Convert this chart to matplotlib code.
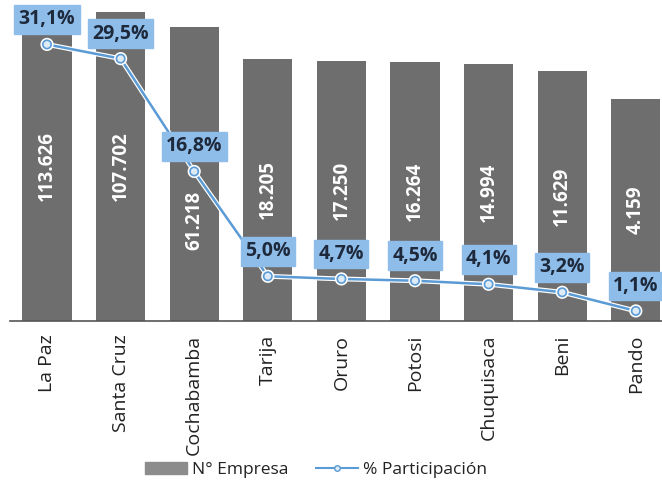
import numpy as np
import matplotlib
matplotlib.use("Agg")
import matplotlib.pyplot as plt
import matplotlib.patheffects as pe
from matplotlib.patches import Patch
from matplotlib.lines import Line2D

plt.rcParams['font.family'] = ['Open Sans', 'DejaVu Sans']

# data
deptos = ["La Paz", "Santa Cruz", "Cochabamba", "Tarija", "Oruro",
          "Potosi", "Chuquisaca", "Beni", "Pando"]
empresas = [113626, 107702, 61218, 18205, 17250, 16264, 14994, 11629, 4159]
empresas_txt = ["113.626", "107.702", "61.218", "18.205", "17.250",
                "16.264", "14.994", "11.629", "4.159"]
particip = [31.1, 29.5, 16.8, 5.0, 4.7, 4.5, 4.1, 3.2, 1.1]
particip_txt = ["31,1%", "29,5%", "16,8%", "5,0%", "4,7%",
                "4,5%", "4,1%", "3,2%", "1,1%"]

bar_col = '#6E6E6E'
line_col = '#5B9BD5'
box_fill = '#8FBDEA'
text_dark = '#1E2A3C'

W, H = 662, 483
fig = plt.figure(figsize=(W / 100, H / 100), dpi=100)
ax = fig.add_axes([10 / W, (H - 320.7) / H, (W - 10) / W, 320.7 / H])

x = np.arange(len(deptos))
ax.bar(x, empresas, width=0.67, color=bar_col, zorder=2)
ax.set_yscale('log')
ax.set_ylim(1, 168000)
ax.set_xlim(-0.503, 8.356)

# labels inside bars (middle of bar in log space)
label_shift = {2: -47}  # Cochabamba label moved down, away from the % box
for i, (v, t) in enumerate(zip(empresas, empresas_txt)):
    ax.annotate(t, (i, np.sqrt(v)), xytext=(0, label_shift.get(i, 0) * 0.72),
                textcoords='offset points', rotation=90, ha='center', va='center',
                color='white', fontsize=13.5, fontweight='bold', zorder=3)

for s in ['left', 'right', 'top']:
    ax.spines[s].set_visible(False)
ax.spines['bottom'].set_color('#555555')
ax.spines['bottom'].set_linewidth(1.2)
ax.set_yticks([])
ax.minorticks_off()
ax.tick_params(axis='y', which='both', left=False, labelleft=False)
ax.set_xticks(x)
ax.set_xticklabels(deptos, rotation=90, fontsize=14, color='#222222')
ax.tick_params(axis='x', length=0, pad=10)

ax2 = ax.twinx()
ax2.set_ylim(0, 36.1)
ax2.set_yticks([])
for s in ['left', 'right', 'top', 'bottom']:
    ax2.spines[s].set_visible(False)
ax2.plot(x, particip, color=line_col, lw=1.8, marker='o', markersize=6,
         markerfacecolor='#DDEBF7', markeredgecolor=line_col, markeredgewidth=1.2,
         zorder=4,
         path_effects=[pe.Stroke(linewidth=3.5, foreground='white'), pe.Normal()])

for i, (v, t) in enumerate(zip(particip, particip_txt)):
    ax2.annotate(t, (i, v), xytext=(0, 18), textcoords='offset points',
                 ha='center', va='center', fontsize=14, fontweight='bold',
                 color=text_dark, zorder=5,
                 bbox=dict(boxstyle='square,pad=0.22', fc=box_fill, ec=box_fill, lw=1))

handles = [Patch(color='#8C8C8C'),
           Line2D([0], [0], color=line_col, lw=1.5, marker='o', markersize=4,
                  markerfacecolor='#DDEBF7', markeredgecolor=line_col)]
fig.legend(handles, ["N° Empresa", "% Participación"], loc='center',
           bbox_to_anchor=(316 / W, 1 - 470 / H), ncol=2, frameon=False,
           fontsize=12.5, handlelength=2.4, columnspacing=1.6, handletextpad=0.3,
           labelcolor='#222222')

fig.savefig("out.png", dpi=100)
